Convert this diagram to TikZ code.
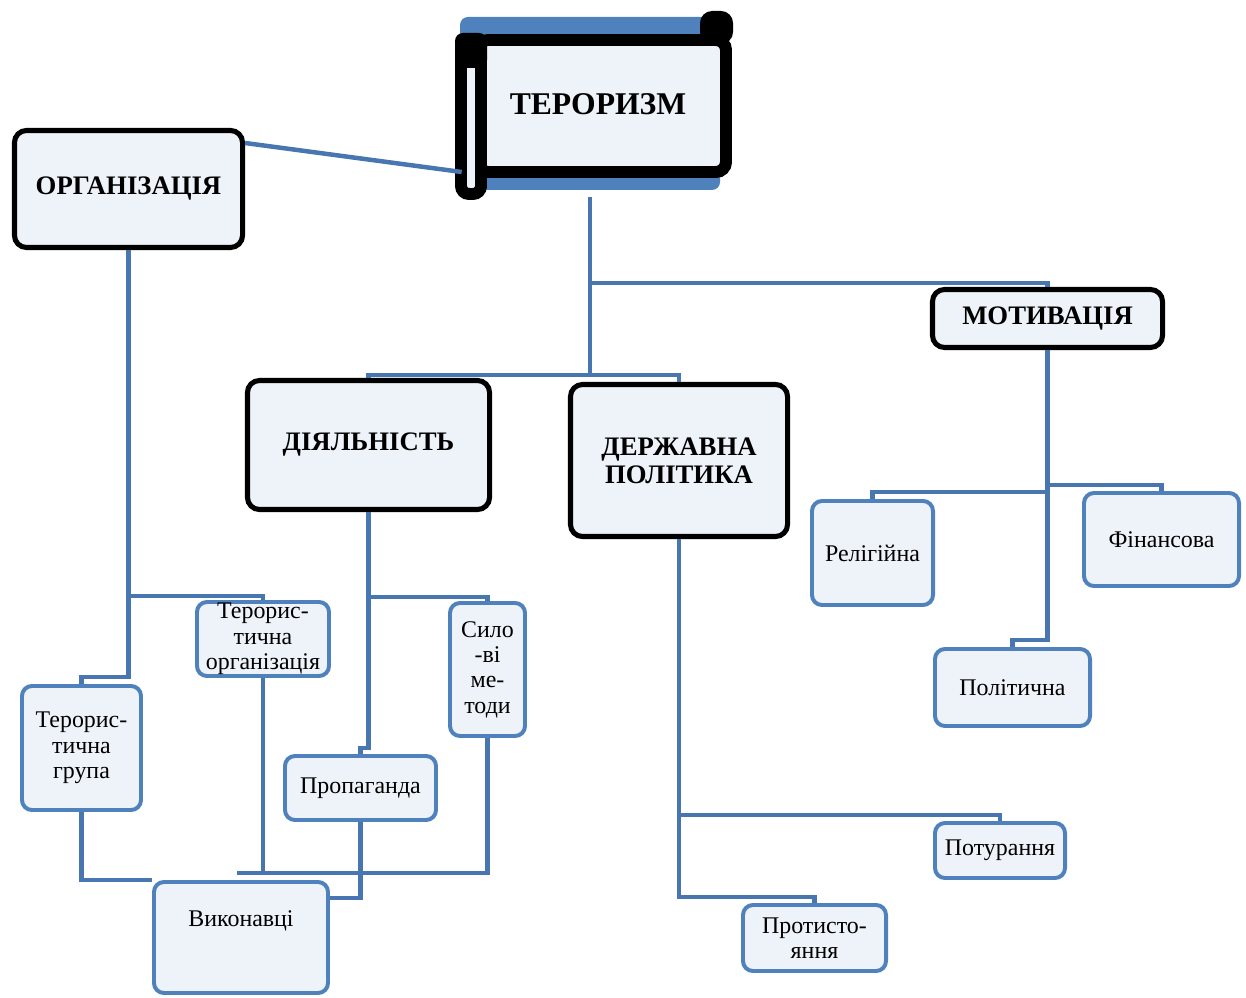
\documentclass[tikz,border=0pt]{standalone}
\usepackage{fontspec}
\setmainfont{Liberation Serif}

\definecolor{boxfill}{RGB}{238,242,249}
\definecolor{boxblue}{RGB}{79,129,189}
\definecolor{linkblue}{RGB}{72,118,176}

\begin{document}
\begin{tikzpicture}[
x=0.025cm, y=-0.025cm,
head/.style={draw=black, line width=3.6pt, fill=boxfill, rounded corners=0.3cm, align=center, inner sep=0pt,
  font=\fontsize{19}{20}\selectfont\bfseries},
leaf/.style={draw=boxblue, line width=2.8pt, fill=boxfill, rounded corners=0.25cm, align=center, inner sep=0pt,
  font=\fontsize{17}{18}\selectfont},
link/.style={draw=linkblue, line width=3.2pt}
]
\useasboundingbox (0,0) rectangle (1246,997);

% scroll
\fill[boxblue, rounded corners=0.2cm] (460,17) rectangle (720,190);
\draw[line width=8.5pt, fill=boxfill, rounded corners=0.25cm] (478,40) rectangle (726,172);
\fill[black, rounded corners=0.3cm] (700,11) rectangle (733,44);
\draw[line width=8.5pt, fill=boxfill, rounded corners=0.2cm] (461,39) rectangle (481,194);
\fill[black, rounded corners=0.2cm] (455,33) rectangle (487,68);
\node (teror) [minimum width=6.8cm, minimum height=4.625cm, inner sep=0pt,
  font=\fontsize{22.5}{24}\selectfont\bfseries] at (598,104.5) {ТЕРОРИЗМ};

\node (org)    [head, minimum width=5.7cm,  minimum height=2.925cm] at (128.5,189)  {ОРГАНІЗАЦІЯ};
\node (diyal)  [head, minimum width=6.05cm, minimum height=3.225cm] at (368.5,445)  {ДІЯЛЬНІСТЬ};
\node (derzh)  [head, minimum width=5.425cm,minimum height=3.8cm]   at (679,460.5)  {ДЕРЖАВНА\\ПОЛІТИКА};
\node (motiv)  [head, minimum width=5.75cm, minimum height=1.45cm]  at (1047.5,318.5) {МОТИВАЦІЯ};

\node (relig)  [leaf, minimum width=3.025cm, minimum height=2.6cm]   at (872.5,553)  {Релігійна};
\node (finan)  [leaf, minimum width=3.875cm, minimum height=2.325cm] at (1161.5,539.5) {Фінансова};
\node (polit)  [leaf, minimum width=3.875cm, minimum height=1.925cm] at (1012.5,687.5) {Політична};
\node (potur)  [leaf, minimum width=3.25cm,  minimum height=1.375cm] at (1000,850.5) {Потурання};
\node (protyst)[leaf, minimum width=3.575cm, minimum height=1.65cm]  at (814.5,938)  {Протисто-\\яння};

\node (terorg) [leaf, minimum width=3.3cm,   minimum height=1.85cm]  at (263,639)    {Терорис-\\тична\\організація};
\node (sylo)   [leaf, minimum width=1.875cm, minimum height=3.325cm] at (487.5,669.5) {Сило\\-ві\\ме-\\тоди};
\node (grupa)  [leaf, minimum width=2.975cm, minimum height=3.1cm]   at (81.5,748)   {Терорис-\\тична\\група};
\node (prop)   [leaf, minimum width=3.775cm, minimum height=1.6cm]   at (360.5,788)  {Пропаганда};
\node (vyk)    [leaf, minimum width=4.35cm,  minimum height=2.775cm, text height=12pt, text depth=27pt]
  at (241,937.5) {Виконавці};

% top level
\coordinate (hub)   at (590,283);
\coordinate (split) at (590,375);
\draw[link] (org.east |- 0,143) -- (teror.west |- 0,172);
\draw[link] (teror.south -| hub) -- (split) -| (diyal.north);
\draw[link] (split) -| (derzh.north);
\draw[link] (hub) -| (motiv.north);

% organisation
\coordinate (o1) at (org.south |- 0,596);
\draw[link] (org.south) -- (o1) -| (terorg.north);
\draw[link] (o1) -- ++(0,81) -| (grupa.north);

% activity
\coordinate (d1) at (diyal.south |- 0,597);
\draw[link] (diyal.south) -- (d1) -| (sylo.north);
\draw[link] (d1) -- ++(0,151) -| (prop.north);

% state policy
\coordinate (s1) at (derzh.south |- 0,815);
\draw[link] (derzh.south) -- (s1) -| (potur.north);
\draw[link] (s1) -- ++(0,82) -| (protyst.north);

% motivation
\coordinate (m1) at (motiv.south |- 0,485);
\draw[link] (motiv.south) -- (m1) -| (finan.north);
\draw[link] (m1) -- ++(0,7) -| (relig.north);
\draw[link] (m1) -- ++(0,155) -| (polit.north);

% executors
\coordinate (v1) at (237,873);
\draw[link] (grupa.south) |- (vyk.north west);
\draw[link] (sylo.south) |- (v1);
\draw[link] (terorg.south) -- (terorg.south |- v1);
\draw[link] (prop.south) |- (vyk.east |- 0,898);

\end{tikzpicture}
\end{document}
